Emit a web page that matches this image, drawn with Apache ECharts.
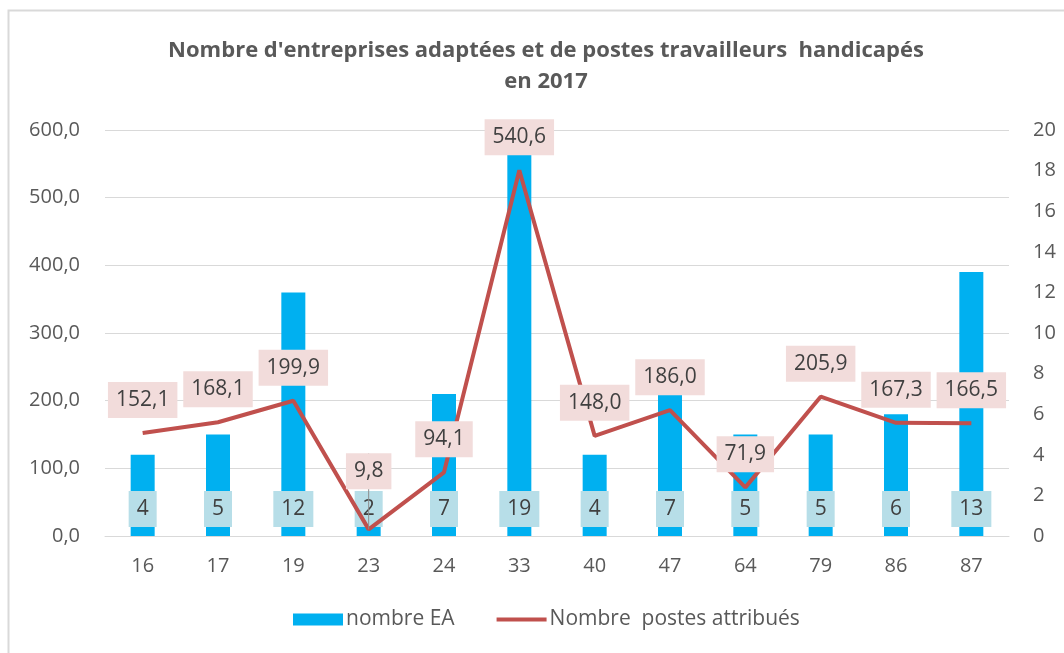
<!DOCTYPE html>
<html>
<head>
<meta charset="utf-8">
<script src="https://cdn.jsdelivr.net/npm/echarts@6/dist/echarts.min.js"></script>
<style>
html,body{margin:0;padding:0;background:#fff;}
#chart{width:1064px;height:653px;}
</style>
</head>
<body>
<div id="chart"></div>
<script>
const categories = ['16','17','19','23','24','33','40','47','64','79','86','87'];
const nombreEA = [4, 5, 12, 2, 7, 19, 4, 7, 5, 5, 6, 13];
const postesAttribues = [152.1, 168.1, 199.9, 9.8, 94.1, 540.6, 148.0, 186.0, 71.9, 205.9, 167.3, 166.5];
const leftTicks = {min: 0, max: 600, interval: 100};
const rightTicks = {min: 0, max: 20, interval: 2};

const FONT = '"Open Sans", "Noto Sans", sans-serif';
const TXT = '#595959';
const fmt = v => Number(v).toFixed(1).replace('.', ',');
const MOVED = 3; // label for "23" pushed up with a leader line

const chart = echarts.init(document.getElementById('chart'), null, {renderer: 'canvas'});
chart.setOption({
  backgroundColor: '#ffffff',
  animation: false,
  textStyle: {fontFamily: FONT},
  graphic: [{
    type: 'rect',
    shape: {x: 8.5, y: 10.5, width: 1200, height: 800},
    style: {fill: 'none', stroke: '#d9d9d9', lineWidth: 2},
    silent: true, z: -10
  }],
  title: {
    text: "Nombre d'entreprises adaptées et de postes travailleurs  handicapés\nen 2017",
    left: 541, top: 30, textAlign: 'center',
    textStyle: {fontFamily: FONT, fontWeight: 'bold', fontSize: 22, color: TXT, lineHeight: 31}
  },
  legend: {
    bottom: 18, left: 288,
    itemWidth: 50, itemHeight: 12, itemGap: 42,
    textStyle: {fontFamily: FONT, fontSize: 21, color: TXT, padding: [0,0,0,-2]},
    data: [
      {name: 'nombre EA', icon: 'rect'},
      {name: 'Nombre  postes attribués', icon: 'path://M0,0 L50,0 L50,4 L0,4 Z'}
    ]
  },
  grid: {left: 105, right: 55, top: 130, bottom: 117, containLabel: false},
  xAxis: {
    type: 'category', data: categories,
    axisLine: {show: true, lineStyle: {color: '#d9d9d9', width: 1}},
    axisTick: {show: false},
    axisLabel: {color: TXT, fontSize: 20, margin: 20, fontFamily: FONT}
  },
  yAxis: [{
    type: 'value', min: leftTicks.min, max: leftTicks.max, interval: leftTicks.interval,
    axisLine: {show: false}, axisTick: {show: false},
    splitLine: {lineStyle: {color: '#d9d9d9', width: 1}},
    axisLabel: {color: TXT, fontSize: 20, margin: 25, fontFamily: FONT, formatter: v => fmt(v)}
  }, {
    type: 'value', min: rightTicks.min, max: rightTicks.max, interval: rightTicks.interval,
    axisLine: {show: false}, axisTick: {show: false}, splitLine: {show: false},
    axisLabel: {color: TXT, fontSize: 20, margin: 24, fontFamily: FONT}
  }],
  series: [{
    name: 'nombre EA', type: 'bar', yAxisIndex: 1, data: nombreEA,
    barWidth: 24,
    itemStyle: {color: '#00B0F0'},
    label: {
      show: true, position: 'insideBottom', distance: 9,
      color: '#404040', fontSize: 21, fontFamily: FONT,
      backgroundColor: '#B7DEE8', padding: [6, 8], lineHeight: 24
    },
    z: 2
  }, {
    name: 'Nombre  postes attribués', type: 'line', yAxisIndex: 0,
    data: postesAttribues.map((v, i) => i === MOVED ? {value: v, labelLine: {show: true}} : v),
    symbol: 'circle', symbolSize: 0, showSymbol: true,
    lineStyle: {color: '#C0504D', width: 4},
    itemStyle: {color: '#C0504D'},
    label: {
      show: true, position: 'top', distance: 15,
      color: '#404040', fontSize: 21, fontFamily: FONT,
      backgroundColor: '#F2DCDB', padding: [6, 8], lineHeight: 24,
      formatter: p => fmt(p.value)
    },
    labelLine: {show: false, lineStyle: {color: '#8c8c8c', width: 1}},
    labelLayout: p => p.dataIndex === MOVED ? {dy: -25} : {},
    z: 3
  }]
});
</script>
</body>
</html>
